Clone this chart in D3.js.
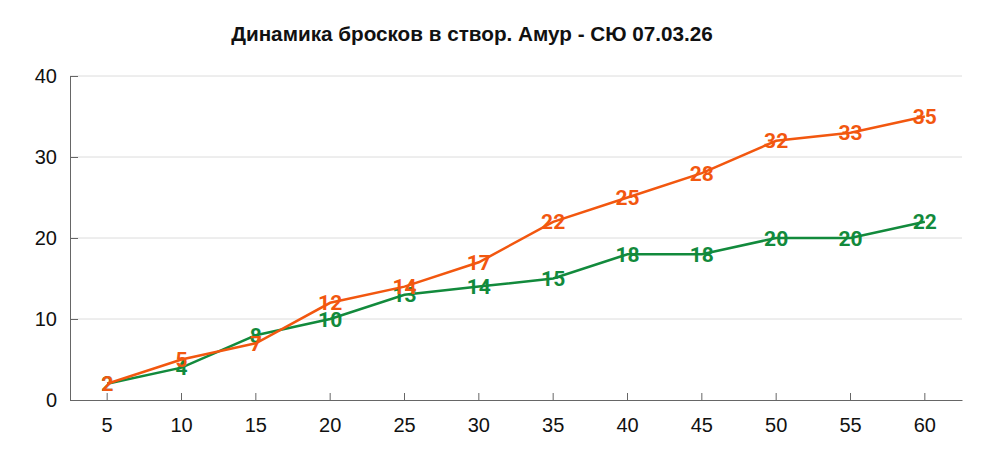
<!DOCTYPE html>
<html>
<head>
<meta charset="utf-8">
<script src="https://cdn.jsdelivr.net/npm/d3@7"></script>
<style>
  body { margin: 0; background: #fff; }
</style>
</head>
<body>
<svg id="mainFrame"></svg>
<script>
const titleText = "Динамика бросков в створ. Амур - СЮ 07.03.26";
const periods = ["5", "10", "15", "20", "25", "30", "35", "40", "45", "50", "55", "60"];
const amurShots = [2, 5, 7, 12, 14, 17, 22, 25, 28, 32, 33, 35];
const syuShots = [2, 4, 8, 10, 13, 14, 15, 18, 18, 20, 20, 22];
const yTicks = [0, 10, 20, 30, 40];

const width = 984;
const height = 460;
const margin = { top: 76, right: 22, bottom: 60, left: 70 };
const axisFont = "'Liberation Sans', Arial, sans-serif";

function draw() {
    const x = d3.scaleBand()
        .domain(periods)
        .range([margin.left, width - margin.right]);

    const y = d3.scaleLinear()
        .domain([0, 40])
        .range([height - margin.bottom, margin.top]);

    const svg = d3.select("#mainFrame")
        .attr("width", width)
        .attr("height", height)
        .attr("font-family", "Roboto, sans-serif");

    svg.append("text")
        .attr("x", 472)
        .attr("y", 41)
        .attr("text-anchor", "middle")
        .attr("font-family", axisFont)
        .attr("font-weight", "bold")
        .attr("font-size", 20.7)
        .attr("fill", "#111")
        .text(titleText);

    // grid
    svg.append("g")
        .selectAll("line")
        .data(yTicks.filter(d => d > 0))
        .join("line")
        .attr("x1", margin.left)
        .attr("x2", width - margin.right)
        .attr("y1", d => y(d))
        .attr("y2", d => y(d))
        .attr("stroke", "#dcdcdc");

    const yAxis = svg.append("g")
        .attr("transform", `translate(${margin.left},0)`)
        .call(d3.axisRight(y).tickValues(yTicks).tickSize(8).tickPadding(0).tickSizeOuter(0));
    yAxis.select(".domain").attr("stroke", "#666");
    yAxis.selectAll(".tick line").attr("stroke", "#666");
    yAxis.selectAll(".tick text")
        .attr("x", -13)
        .attr("text-anchor", "end")
        .attr("font-family", axisFont)
        .attr("font-size", 20)
        .attr("fill", "#111");

    const xAxis = svg.append("g")
        .attr("transform", `translate(0,${y(0)})`)
        .call(d3.axisTop(x).tickSize(7).tickSizeOuter(0));
    xAxis.select(".domain").attr("stroke", "#666");
    xAxis.selectAll(".tick line").attr("stroke", "#666");
    xAxis.selectAll(".tick text")
        .attr("y", 32)
        .attr("font-family", axisFont)
        .attr("font-size", 20)
        .attr("fill", "#111");

    const cx = d => x(d) + x.bandwidth() / 2;

    const series = [
        { name: "СЮ", values: syuShots, color: "#128a3c" },
        { name: "Амур", values: amurShots, color: "#f2570f" }
    ];

    const line = d3.line()
        .x(d => cx(d.period))
        .y(d => y(d.value));

    series.forEach(s => {
        const pts = periods.map((p, i) => ({ period: p, value: s.values[i] }));
        const g = svg.append("g");
        g.append("path")
            .datum(pts)
            .attr("fill", "none")
            .attr("stroke", s.color)
            .attr("stroke-width", 2.5)
            .attr("d", line);
        g.selectAll("text")
            .data(pts)
            .join("text")
            .attr("x", d => cx(d.period))
            .attr("y", d => y(d.value))
            .attr("dy", "0.36em")
            .attr("text-anchor", "middle")
            .attr("font-size", 21)
            .attr("font-weight", 700)
            .attr("fill", s.color)
            .text(d => d.value);
    });

    return svg.node();
}

draw();
</script>
</body>
</html>
